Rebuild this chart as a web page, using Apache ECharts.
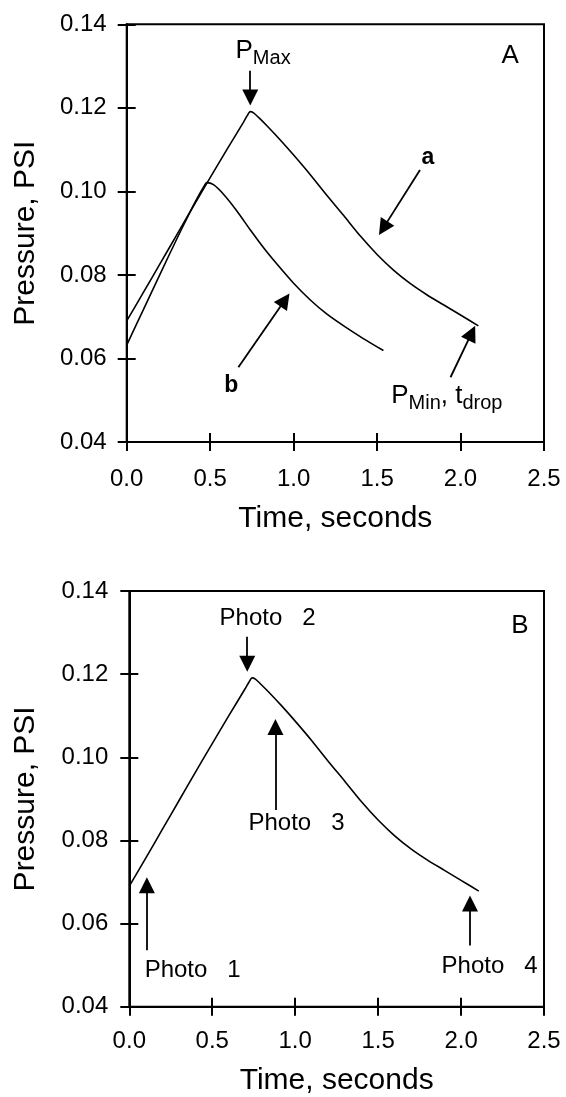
<!DOCTYPE html>
<html><head><meta charset="utf-8">
<script src="https://cdn.jsdelivr.net/npm/echarts@6/dist/echarts.min.js"></script>
<style>html,body{margin:0;padding:0;background:#fff}#c{width:566px;height:1097px}</style>
</head><body><div id="c"></div>
<script>
// ---- data (time in seconds, pressure in PSI) ----
const curveATime = [0, 0.1, 0.2, 0.3, 0.4, 0.5, 0.6, 0.7, 0.72, 0.74, 0.76, 0.79, 0.84, 0.92, 1.0, 1.1, 1.2, 1.3, 1.4, 1.5, 1.6, 1.7, 1.8, 1.9, 2.0, 2.107];
const curveAPress = [0.0690, 0.0758, 0.0827, 0.0896, 0.0965, 0.1033, 0.1100, 0.1166, 0.1180, 0.1191, 0.1188, 0.1177, 0.1157, 0.1123, 0.1087, 0.1040, 0.0990, 0.0942, 0.0893, 0.0849, 0.0811, 0.0779, 0.0752, 0.0728, 0.0704, 0.0678];
const curveBTime = [0, 0.1, 0.2, 0.3, 0.36, 0.42, 0.46, 0.48, 0.52, 0.58, 0.66, 0.74, 0.82, 0.9, 1.0, 1.1, 1.2, 1.3, 1.42, 1.538];
const curveBPress = [0.0632, 0.0717, 0.0802, 0.0886, 0.0935, 0.0982, 0.1010, 0.1021, 0.1016, 0.0993, 0.0953, 0.0908, 0.0865, 0.0826, 0.0780, 0.0740, 0.0706, 0.0678, 0.0647, 0.0619];
const xRange = [0, 2.5, 0.5];
const yRange = [0.04, 0.14, 0.02];

// annotation texts (data coordinates of their centres)
const textsA = [
  {id: 'panel', text: 'A', t: 2.297, p: 0.1325},
  {id: 'pmax', text: '{p|P}{s|Max}', t: 0.817, p: 0.1336},
  {id: 'bold', text: 'a', t: 1.805, p: 0.1080},
  {id: 'bold', text: 'b', t: 0.627, p: 0.0536},
  {id: 'pmin', text: '{p|P}{s|Min}{p|, t}{s|drop}', t: 1.918, p: 0.0510}
];
const textsB = [
  {id: 'panel', text: 'B', t: 2.355, p: 0.1317},
  {id: 'photo', text: 'Photo   2', t: 0.834, p: 0.1333},
  {id: 'photo', text: 'Photo   3', t: 1.008, p: 0.0842},
  {id: 'photo', text: 'Photo   1', t: 0.382, p: 0.0488},
  {id: 'photo', text: 'Photo   4', t: 2.172, p: 0.0498}
];
// arrows: [startT, startP, headT, headP]
const arrowsA = [
  [0.74, 0.1289, 0.74, 0.1225],
  [1.757, 0.1051, 1.537, 0.0912],
  [0.669, 0.0579, 0.948, 0.0740],
  [1.940, 0.0555, 2.067, 0.0661]
];
const arrowsB = [
  [0.711, 0.1290, 0.711, 0.1225],
  [0.881, 0.0873, 0.881, 0.1073],
  [0.106, 0.0536, 0.106, 0.0692],
  [2.054, 0.0547, 2.054, 0.0648]
];

const FONT = 'Liberation Sans, Arial, sans-serif';
const pairs = (ts, ps) => ts.map((t, i) => [t, ps[i]]);

const textStyles = {
  panel: {fontSize: 26},
  photo: {fontSize: 24},
  bold: {fontSize: 23, fontWeight: 'bold'},
  pmax: {rich: {p: {fontSize: 26, lineHeight: 34, fontFamily: FONT, color: '#000'}, s: {fontSize: 20, lineHeight: 19, verticalAlign: 'bottom', fontFamily: FONT, color: '#000'}}},
  pmin: {rich: {p: {fontSize: 26, lineHeight: 34, fontFamily: FONT, color: '#000'}, s: {fontSize: 20, lineHeight: 19, verticalAlign: 'bottom', fontFamily: FONT, color: '#000'}}}
};

function markPoints(texts) {
  return {
    silent: true, symbol: 'circle', symbolSize: 0,
    data: texts.map(o => ({
      coord: [o.t, o.p],
      label: Object.assign({show: true, position: 'inside', formatter: o.text, color: '#000', fontFamily: FONT, align: 'center', verticalAlign: 'middle'}, textStyles[o.id])
    }))
  };
}
function markLines(arrows) {
  return {
    silent: true, symbol: ['none', 'triangle'], symbolSize: 16,
    label: {show: false},
    lineStyle: {color: '#000', width: 1.8, type: 'solid'},
    emphasis: {disabled: true},
    data: arrows.map(a => [{coord: [a[0], a[1]]}, {coord: [a[2], a[3]]}])
  };
}

function axesFor(grid) {
  const xs = [
    {gridIndex: grid, type: 'value', min: xRange[0], max: xRange[1], interval: xRange[2], position: 'bottom',
     name: 'Time, seconds', nameLocation: 'middle', nameGap: grid === 0 ? 62 : 59,
     nameTextStyle: {fontSize: 30, fontFamily: FONT, color: '#000'},
     axisLine: {onZero: false, lineStyle: {color: '#000', width: 2}},
     axisTick: {inside: false, length: 9, lineStyle: {color: '#000', width: 2}},
     axisLabel: {fontSize: 24, fontFamily: FONT, color: '#000', margin: grid === 0 ? 25 : 23, formatter: v => v.toFixed(1), showMinLabel: true, showMaxLabel: true},
     splitLine: {show: false}},
    {gridIndex: grid, type: 'value', min: xRange[0], max: xRange[1], interval: xRange[2], position: 'bottom',
     axisLine: {show: false, onZero: false},
     axisTick: {inside: true, length: 9, lineStyle: {color: '#000', width: 2}},
     axisLabel: {show: false}, splitLine: {show: false}}
  ];
  const ys = [
    {gridIndex: grid, type: 'value', min: yRange[0], max: yRange[1], interval: yRange[2], position: 'left',
     name: 'Pressure, PSI', nameLocation: 'middle', nameGap: grid === 0 ? 86 : 88.5,
     nameTextStyle: {fontSize: 30, fontFamily: FONT, color: '#000'},
     axisLine: {onZero: false, lineStyle: {color: '#000', width: 2}},
     axisTick: {inside: false, length: 9, lineStyle: {color: '#000', width: 2}},
     axisLabel: {fontSize: 24, fontFamily: FONT, color: '#000', margin: grid === 0 ? 20 : 21, formatter: v => v.toFixed(2), showMinLabel: true, showMaxLabel: true},
     splitLine: {show: false}},
    {gridIndex: grid, type: 'value', min: yRange[0], max: yRange[1], interval: yRange[2], position: 'left',
     axisLine: {show: false, onZero: false},
     axisTick: {inside: true, length: 9, lineStyle: {color: '#000', width: 2}},
     axisLabel: {show: false}, splitLine: {show: false}}
  ];
  return {xs, ys};
}
const axA = axesFor(0), axB = axesFor(1);

const lineStyle = {color: '#000', width: 1.6};
const option = {
  animation: false,
  backgroundColor: '#fff',
  grid: [
    {left: 126.7, right: 22, top: 24.3, height: 417.7, show: true, borderColor: '#000', borderWidth: 2, backgroundColor: 'transparent'},
    {left: 129.3, right: 22, top: 591, height: 415.7, show: true, borderColor: '#000', borderWidth: 2, backgroundColor: 'transparent'}
  ],
  xAxis: axA.xs.concat(axB.xs),
  yAxis: axA.ys.concat(axB.ys),
  series: [
    {type: 'line', name: 'a', xAxisIndex: 0, yAxisIndex: 0, data: pairs(curveATime, curveAPress), showSymbol: false, smooth: 0.25, lineStyle, itemStyle: {color: '#000'},
     markPoint: markPoints(textsA), markLine: markLines(arrowsA)},
    {type: 'line', name: 'b', xAxisIndex: 0, yAxisIndex: 0, data: pairs(curveBTime, curveBPress), showSymbol: false, smooth: 0.25, lineStyle, itemStyle: {color: '#000'}},
    {type: 'line', name: 'a (panel B)', xAxisIndex: 2, yAxisIndex: 2, data: pairs(curveATime, curveAPress), showSymbol: false, smooth: 0.25, lineStyle, itemStyle: {color: '#000'},
     markPoint: markPoints(textsB), markLine: markLines(arrowsB)}
  ]
};
const chart = echarts.init(document.getElementById('c'), null, {renderer: 'canvas'});
chart.setOption(option);
</script>
</body></html>
